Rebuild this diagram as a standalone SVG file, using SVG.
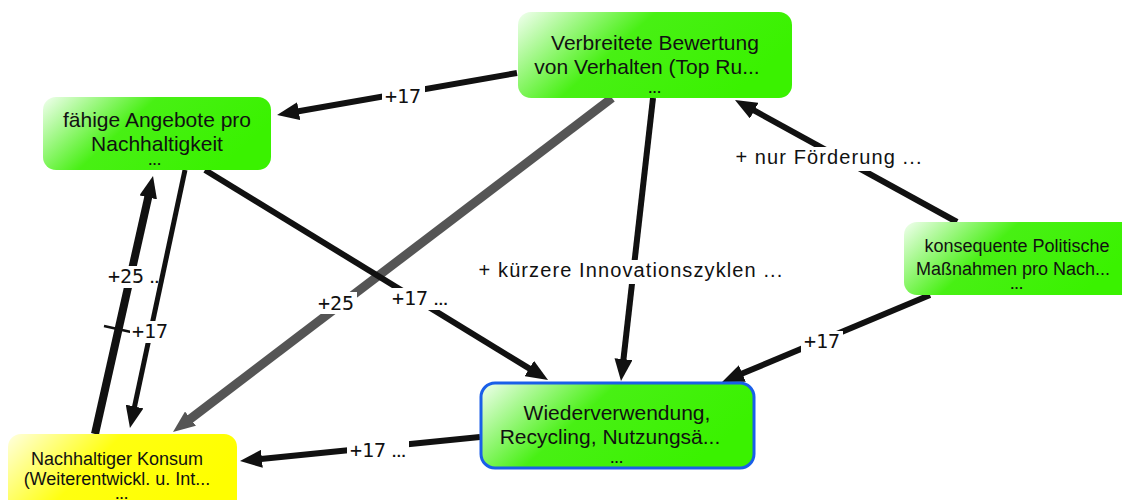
<svg xmlns="http://www.w3.org/2000/svg" width="1122" height="500" viewBox="0 0 1122 500">
  <defs>
    <linearGradient id="gGreen" x1="0" y1="0" x2="1" y2="0.35">
      <stop offset="0" stop-color="#f2fff0"/>
      <stop offset="0.45" stop-color="#48f014"/>
      <stop offset="1" stop-color="#3af200"/>
    </linearGradient>
    <linearGradient id="gYellow" x1="0" y1="0" x2="1" y2="0.35">
      <stop offset="0" stop-color="#ffffe0"/>
      <stop offset="0.45" stop-color="#ffff10"/>
      <stop offset="1" stop-color="#ffff00"/>
    </linearGradient>
    <marker id="arrow" viewBox="0 0 22 18" refX="6" refY="9" markerWidth="22" markerHeight="18" markerUnits="userSpaceOnUse" orient="auto">
      <path d="M0,0 L22,9 L0,18 z" fill="#111"/>
    </marker>
    <marker id="arrowGray" viewBox="0 0 22 18" refX="6" refY="9" markerWidth="22" markerHeight="18" markerUnits="userSpaceOnUse" orient="auto">
      <path d="M0,0 L22,9 L0,18 z" fill="#555"/>
    </marker>
    <style>
      .edge { fill: none; stroke: #111; stroke-width: 6; marker-end: url(#arrow); }
      .thick { stroke-width: 8; }
      .thin { stroke-width: 5; }
      .gray { stroke: #555; stroke-width: 9; marker-end: url(#arrowGray); }
      .bg { fill: #fff; }
      .lbl { font-family: "DejaVu Sans Mono", "Liberation Mono", monospace; font-size: 20px; fill: #111; text-anchor: middle; }
      .ell { font-family: "Liberation Sans", Arial, sans-serif; font-size: 15px; font-weight: bold; letter-spacing: 0.5px; }
      .lbls { font-family: "Liberation Sans", Arial, sans-serif; font-size: 20px; letter-spacing: 1.1px; fill: #111; text-anchor: middle; }
      .box { fill: url(#gGreen); }
      .yel { fill: url(#gYellow); }
      .sel { stroke: #1a5fe8; stroke-width: 3; }
      .t { font-family: "Liberation Sans", Arial, sans-serif; font-size: 21px; fill: #111; text-anchor: middle; }
      .ts { font-size: 18px; }
      .dots { font-family: "Liberation Sans", Arial, sans-serif; font-size: 13px; font-weight: bold; letter-spacing: 0.8px; fill: #111; text-anchor: middle; }
    </style>
  </defs>
  <rect width="1122" height="500" fill="#fff"/>

  <!-- connectors -->
  <g id="connectors">
    <path class="edge" d="M517,73 L292.8,112.2"/>
    <path class="edge gray" d="M612,98 L185.7,422.3"/>
    <path class="edge" d="M653,98 L622.8,365.1"/>
    <path class="edge" d="M205,170 L534.4,371.6"/>
    <path class="edge thick" d="M95,434 L149.5,191.6"/>

    <!-- label backgrounds break the lines around each label -->
    <rect class="bg" x="382" y="85" width="43" height="22"/>
    <rect class="bg" x="316" y="292" width="41" height="22"/>
    <rect class="bg" x="478" y="260" width="306" height="24"/>
    <rect class="bg" x="389" y="288" width="62" height="22"/>
    <rect class="bg" x="105" y="266" width="62" height="22"/>

    <path class="edge thin" d="M185,170 L133.3,412.4"/>
    <path class="edge" d="M957,222 L749,107.7"/>
    <path class="edge" d="M930,295 L736.8,375.8"/>
    <path class="edge" d="M480,437 L255.9,459.4"/>
    <path d="M104,326 L131,332" stroke="#111" stroke-width="2.5"/>

    <rect class="bg" x="130" y="321" width="41" height="22"/>
    <rect class="bg" x="734" y="147" width="190" height="24"/>
    <rect class="bg" x="801" y="331" width="42" height="22"/>
    <rect class="bg" x="347" y="440" width="62" height="22"/>

    <text class="lbl" x="403" y="103">+17</text>
    <text class="lbl" x="336" y="310">+25</text>
    <text class="lbls" x="631" y="277">+ kürzere Innovationszyklen ...</text>
    <text class="lbl" x="420" y="305">+17<tspan class="ell" dx="6">...</tspan></text>
    <text class="lbl" x="136" y="283">+25<tspan class="ell" dx="6">...</tspan></text>
    <text class="lbl" x="150" y="338">+17</text>
    <text class="lbls" x="829" y="164">+ nur Förderung ...</text>
    <text class="lbl" x="822" y="348">+17</text>
    <text class="lbl" x="378" y="457">+17<tspan class="ell" dx="6">...</tspan></text>
  </g>

  <!-- nodes -->
  <g id="node-bewertung">
    <rect class="box" x="518" y="12" width="274" height="86" rx="13"/>
    <text class="t" x="655" y="50">Verbreitete Bewertung</text>
    <text class="t" x="647" y="74">von Verhalten (Top Ru...</text>
    <text class="dots" x="655" y="93">...</text>
  </g>
  <g id="node-angebote">
    <rect class="box" x="43" y="97" width="228" height="73" rx="13"/>
    <text class="t" x="157" y="127">fähige Angebote pro</text>
    <text class="t" x="157" y="151">Nachhaltigkeit</text>
    <text class="dots" x="155" y="165">...</text>
  </g>
  <g id="node-politik">
    <rect class="box" x="904" y="222" width="230" height="73" rx="13"/>
    <text class="t ts" x="1017" y="252">konsequente Politische</text>
    <text class="t ts" x="1013" y="275">Maßnahmen pro Nach...</text>
    <text class="dots" x="1017" y="289">...</text>
  </g>
  <g id="node-wiederverwendung">
    <rect class="box sel" x="481" y="383" width="273" height="85" rx="14"/>
    <text class="t" x="617" y="420">Wiederverwendung,</text>
    <text class="t" x="610" y="444">Recycling, Nutzungsä...</text>
    <text class="dots" x="617" y="463">...</text>
  </g>
  <g id="node-konsum">
    <rect class="yel" x="8" y="434" width="229" height="80" rx="13"/>
    <text class="t ts" x="117" y="465">Nachhaltiger Konsum</text>
    <text class="t ts" x="117" y="485">(Weiterentwickl. u. Int...</text>
    <text class="dots" x="122" y="499">...</text>
  </g>
</svg>
